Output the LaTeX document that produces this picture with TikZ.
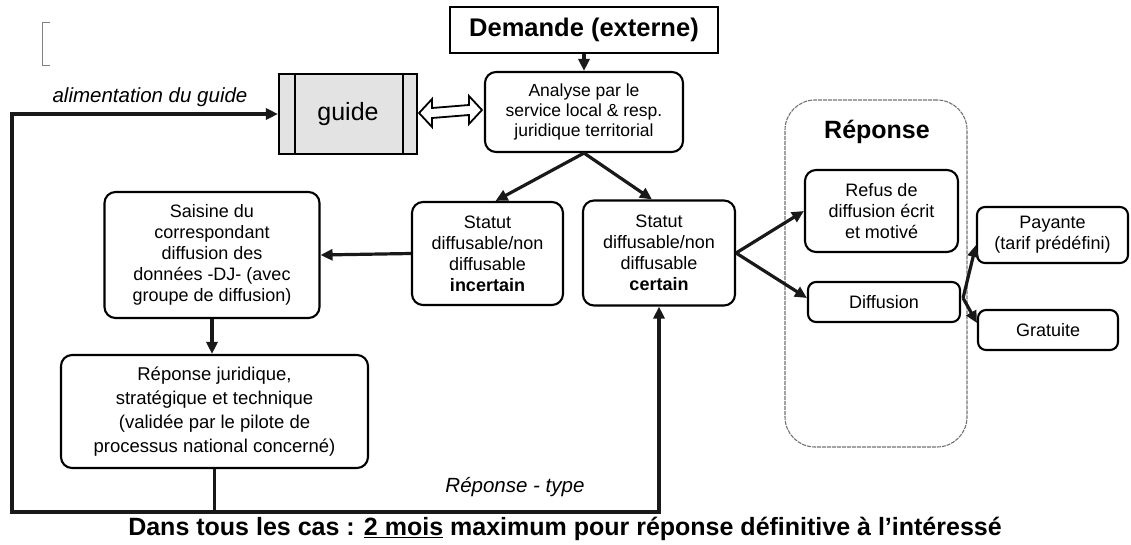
\documentclass[tikz,border=0pt]{standalone}
\usepackage{fontspec}
\setmainfont{Liberation Sans}
\usetikzlibrary{arrows.meta,calc}
\begin{document}
\begin{tikzpicture}[x=1pt,y=-1pt,
  box/.style={draw=black,line width=2.1pt,rounded corners=11pt,align=center,inner sep=2pt,
     font=\fontsize{18}{21}\selectfont},
  conn/.style={line width=3.2pt,draw=black!90},
  arr/.style={conn,-{Triangle[length=12pt,width=11pt]}},
  lbl/.style={inner sep=0pt},
]
\useasboundingbox (0,0) rectangle (1131,544);

% bracket
\draw[gray,line width=0.8pt] (50,22) -- (42,22) -- (42,65) -- (50,65);

% big reponse container
\node[draw=black!55,line width=1.1pt,dash pattern=on 4pt off 1pt,rounded corners=30pt,minimum width=182pt,minimum height=347pt] (rep) at (876,273.5) {};
\node[lbl,font=\fontsize{25}{28}\selectfont\bfseries] (reptitle) at (877,132) {Réponse};

\node[draw=black,line width=2.1pt,minimum width=268pt,minimum height=46pt,inner sep=0pt,
      font=\fontsize{25.5}{28}\selectfont\bfseries] (demande) at (584,30) {Demande (externe)};
\node[box,minimum width=198pt,minimum height=80pt,font=\fontsize{17.5}{20}\selectfont] (analyse) at (584,112)
  {Analyse par le\\service local \& resp.\\juridique territorial};
\node[draw=black,line width=2.1pt,fill=gray!22,minimum width=138pt,minimum height=80pt,
      font=\fontsize{25}{28}\selectfont] (guide) at (348,114) {guide};
\draw[black,line width=1.8pt] ($(guide.north west)+(17,0)$) -- ($(guide.south west)+(17,0)$);
\draw[black,line width=1.8pt] ($(guide.north east)+(-15,0)$) -- ($(guide.south east)+(-15,0)$);

% hollow double arrow
\coordinate (dl) at ($(guide.east)+(1,-1)$);
\coordinate (dr) at ($(analyse.west)+(-2,-2)$);
\draw[fill=white,line width=1.8pt,draw=black,line join=miter]
  (dl) -- ++(13,-14) -- ++(0,9) -- ($(dr)+(-13,-5)$) -- ++(0,-9) -- (dr)
  -- ++(-13,14) -- ++(0,-9) -- ($(dl)+(13,5)$) -- ++(0,9) -- cycle;

\node[box,minimum width=151pt,minimum height=103pt] (incertain) at (487.5,253.5)
  {Statut\\diffusable/non\\diffusable\\\textbf{incertain}};
\node[box,minimum width=152pt,minimum height=105pt] (certain) at (659,253)
  {Statut\\diffusable/non\\diffusable\\\textbf{certain}};
\node[box,minimum width=215pt,minimum height=126pt] (saisine) at (212,255)
  {Saisine du\\correspondant\\diffusion des\\données -DJ- (avec\\groupe de diffusion)};
\node[box,minimum width=307pt,minimum height=113pt,font=\fontsize{18.5}{24}\selectfont] (repjur) at (214.5,411.5)
  {Réponse juridique,\\stratégique et technique\\(validée par le pilote de\\processus national concerné)};
\node[box,minimum width=153pt,minimum height=82pt] (refus) at (881.5,211)
  {Refus de\\diffusion écrit\\et motivé};
\node[box,rounded corners=8pt,minimum width=152pt,minimum height=40pt] (diffusion) at (884,302) {Diffusion};
\node[box,rounded corners=8pt,minimum width=151pt,minimum height=56pt] (payante) at (1052.5,235)
  {Payante\\(tarif prédéfini)};
\node[box,rounded corners=8pt,minimum width=140pt,minimum height=40pt] (gratuite) at (1048,330) {Gratuite};

% labels
\node[lbl,font=\fontsize{20.5}{24}\selectfont\itshape] (alim) at (150,97) {alimentation du guide};
\node[lbl,font=\fontsize{20.5}{24}\selectfont\itshape] (rtype) at (515,487) {Réponse - type};
\node[lbl,font=\fontsize{25}{28}\selectfont\bfseries] (bottom) at (565,529)
  {Dans tous les cas : \underline{2 mois} maximum pour réponse définitive à l’intéressé};

% connectors
\draw[arr] (demande.south) -- (analyse.north);
\draw[arr] (analyse.south) -- ($(incertain.north)+(8,0)$);
\draw[arr] (analyse.south) -- ($(certain.north)+(-7,0)$);
\draw[arr] (incertain.west) -- (saisine.east);
\draw[arr] (saisine.south) -- (saisine.south |- repjur.north);
\draw[arr] (certain.east) -- (refus.west);
\draw[arr] (certain.east) -- ($(diffusion.west)+(0,-4)$);
\draw[arr] ($(diffusion.east)+(2,-4)$) -- ($(payante.west)+(0,10)$);
\draw[arr] ($(diffusion.east)+(2,-4)$) -- ($(gratuite.west)+(0,-7)$);

\coordinate (j) at (repjur.south |- 0,512);
\coordinate (bl) at (12,512);
\draw[conn] (repjur.south) -- (j);
\draw[arr] (j) -- (bl) |- (guide.west);
\draw[arr] (j) -| (certain.south);
\end{tikzpicture}
\end{document}
